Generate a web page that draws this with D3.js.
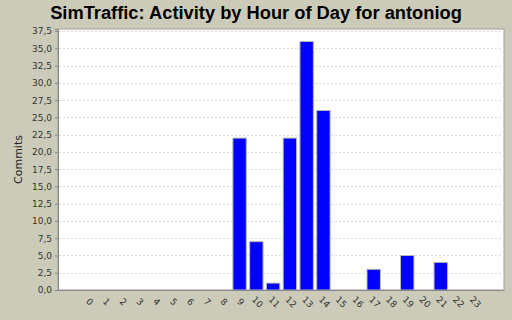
<!DOCTYPE html>
<meta charset="utf-8">
<style>
  body { margin: 0; background: #cccbb9; }
  text { font-family: "DejaVu Sans", sans-serif; }
  .grid line { stroke: #dcdcdc; stroke-dasharray: 2,2; }
  .bar { fill: #0000ff; stroke: #b8b8b8; stroke-width: 1; }
</style>
<body>
<script src="https://d3js.org/d3.v7.min.js"></script>
<script>

var hours = d3.range(24).map(String);
var commits = [0, 0, 0, 0, 0, 0, 0, 0, 0, 22, 7, 1, 22, 36, 26, 0, 0, 3, 0, 5, 0, 4, 0, 0];
var yTicks = [0, 2.5, 5, 7.5, 10, 12.5, 15, 17.5, 20, 22.5, 25, 27.5, 30, 32.5, 35, 37.5];

var width = 512,
    height = 320,
    plot = {left: 58, right: 504, top: 29, bottom: 290};

var svg = d3.select("body").append("svg")
    .attr("width", width)
    .attr("height", height);

svg.append("rect")
    .attr("width", width)
    .attr("height", height)
    .attr("fill", "#cccbb9");

var x = d3.scaleBand()
    .domain(hours)
    .range([82, 481])
    .paddingInner(0.2)
    .paddingOuter(0);

var y = d3.scaleLinear()
    .domain([0, 37.8])
    .range([plot.bottom, plot.top]);

svg.append("rect")
    .attr("x", plot.left)
    .attr("y", plot.top)
    .attr("width", plot.right - plot.left)
    .attr("height", plot.bottom - plot.top)
    .attr("fill", "#fff")
    .attr("stroke", "#a0a0a0");

// gridlines
svg.append("g")
    .attr("class", "grid")
  .selectAll("line")
    .data(yTicks.filter(function(d) { return d > 0; }))
  .enter().append("line")
    .attr("x1", plot.left + 1)
    .attr("x2", plot.right - 1)
    .attr("y1", function(d) { return Math.round(y(d)) + 0.5; })
    .attr("y2", function(d) { return Math.round(y(d)) + 0.5; });

var data = hours.map(function(h, i) { return {hour: h, value: commits[i]}; })
    .filter(function(d) { return d.value > 0; });

svg.append("g")
  .selectAll("rect")
    .data(data)
  .enter().append("rect")
    .attr("class", "bar")
    .attr("x", function(d) { return x(d.hour); })
    .attr("y", function(d) { return y(d.value); })
    .attr("width", x.bandwidth())
    .attr("height", function(d) { return plot.bottom - y(d.value); });

// y axis
var yAxis = d3.axisLeft(y)
    .tickValues(yTicks)
    .tickSize(3)
    .tickPadding(3)
    .tickFormat(function(d) { return d3.format(".1f")(d).replace(".", ","); });

svg.append("g")
    .attr("transform", "translate(" + plot.left + ",0)")
    .call(yAxis)
    .call(function(g) {
      g.select(".domain").attr("stroke", "#888");
      g.selectAll(".tick line").attr("stroke", "#888");
      g.selectAll(".tick text").attr("fill", "#333").style("font-size", "9px");
      g.attr("font-family", null);
    });

svg.append("line")
    .attr("x1", plot.left)
    .attr("x2", plot.right)
    .attr("y1", plot.bottom + 0.5)
    .attr("y2", plot.bottom + 0.5)
    .attr("stroke", "#888");

// x labels
svg.append("g")
  .selectAll("text")
    .data(hours)
  .enter().append("text")
    .attr("transform", function(d) {
      return "translate(" + (x(d) + x.bandwidth() / 2 + 1) + ",302)rotate(45)";
    })
    .attr("text-anchor", "middle")
    .attr("dominant-baseline", "central")
    .style("font-size", "9px")
    .attr("fill", "#333")
    .text(function(d) { return d; });

svg.append("text")
    .attr("transform", "translate(22," + ((plot.top + plot.bottom) / 2) + ")rotate(-90)")
    .attr("text-anchor", "middle")
    .style("font-size", "11px")
    .attr("fill", "#222")
    .text("Commits");

svg.append("text")
    .attr("x", 256)
    .attr("y", 19)
    .attr("text-anchor", "middle")
    .style("font-size", "18.3px")
    .style("font-weight", "bold")
    .style("font-family", "Liberation Sans, Arial, sans-serif")
    .attr("fill", "#000")
    .text("SimTraffic: Activity by Hour of Day for antoniog");

</script>
</body>
</html>
